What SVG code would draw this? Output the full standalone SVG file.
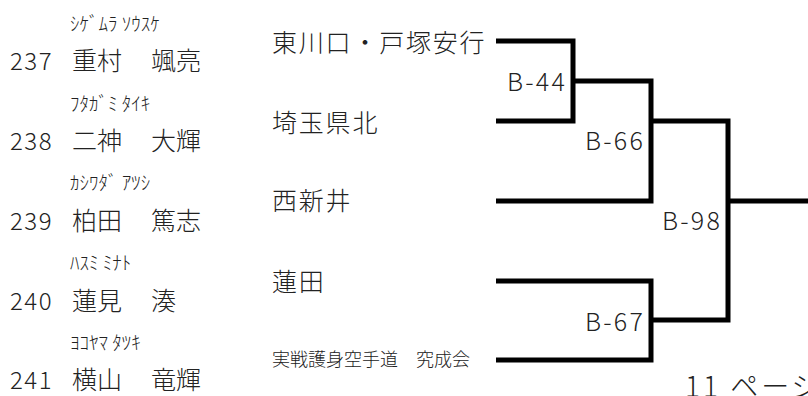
<svg xmlns="http://www.w3.org/2000/svg" width="808" height="396" viewBox="0 0 808 396">
<style>
text{font-family:"Noto Sans CJK JP","Noto Sans",sans-serif;fill:#222;font-weight:300}
.num{font-size:24px;letter-spacing:1.5px}
.nm{font-size:25px}
.kana{font-size:19px}
.team{font-size:25px;letter-spacing:1.8px}
.small{font-size:18px}
.lbl{font-size:25px;text-anchor:end;letter-spacing:2.2px}
.page{font-size:28px;letter-spacing:3px}
.ln{fill:none;stroke:#000;stroke-width:5;stroke-linejoin:miter;stroke-linecap:butt}
</style>
<rect width="808" height="396" fill="#fff"/>
<g id="player-237">
<text class="kana" x="70" y="31">ｼｹﾞﾑﾗ ｿｳｽｹ</text>
<text class="num" x="10" y="70">237</text>
<text class="nm" x="72" y="70">重村</text>
<text class="nm" x="151" y="70">颯亮</text>
</g>
<g id="player-238">
<text class="kana" x="70" y="111">ﾌﾀｶﾞﾐ ﾀｲｷ</text>
<text class="num" x="10" y="150">238</text>
<text class="nm" x="72" y="150">二神</text>
<text class="nm" x="151" y="150">大輝</text>
</g>
<g id="player-239">
<text class="kana" x="70" y="190">ｶｼﾜﾀﾞ ｱﾂｼ</text>
<text class="num" x="10" y="230">239</text>
<text class="nm" x="72" y="230">柏田</text>
<text class="nm" x="151" y="230">篤志</text>
</g>
<g id="player-240">
<text class="kana" x="70" y="270">ﾊｽﾐ ﾐﾅﾄ</text>
<text class="num" x="10" y="310">240</text>
<text class="nm" x="72" y="310">蓮見</text>
<text class="nm" x="151" y="310">湊</text>
</g>
<g id="player-241">
<text class="kana" x="70" y="350">ﾖｺﾔﾏ ﾀﾂｷ</text>
<text class="num" x="10" y="389">241</text>
<text class="nm" x="72" y="389">横山</text>
<text class="nm" x="151" y="389">竜輝</text>
</g>
<g id="team-1"><text class="team" x="272" y="52">東川口・戸塚安行</text></g>
<g id="team-2"><text class="team" x="272" y="132">埼玉県北</text></g>
<g id="team-3"><text class="team" x="272" y="210">西新井</text></g>
<g id="team-4"><text class="team" x="272" y="291">蓮田</text></g>
<g id="team-5"><text class="small" x="272" y="366">実戦護身空手道　究成会</text></g>
<g id="connectors">
<path class="ln" d="M496,41 H573 V121 H496"/>
<path class="ln" d="M573,81 H651 V201 H496"/>
<path class="ln" d="M496,281 H651 V360 H496"/>
<path class="ln" d="M651,121 H728 V320 H651"/>
<path class="ln" d="M728,201 H808"/>
</g>
<g id="match-B-44"><text class="lbl" x="567" y="91">B-44</text></g>
<g id="match-B-66"><text class="lbl" x="645" y="150">B-66</text></g>
<g id="match-B-98"><text class="lbl" x="722" y="230">B-98</text></g>
<g id="match-B-67"><text class="lbl" x="645" y="331">B-67</text></g>
<g id="page-note"><text class="page" x="685" y="397">11 ページ</text></g>
</svg>
